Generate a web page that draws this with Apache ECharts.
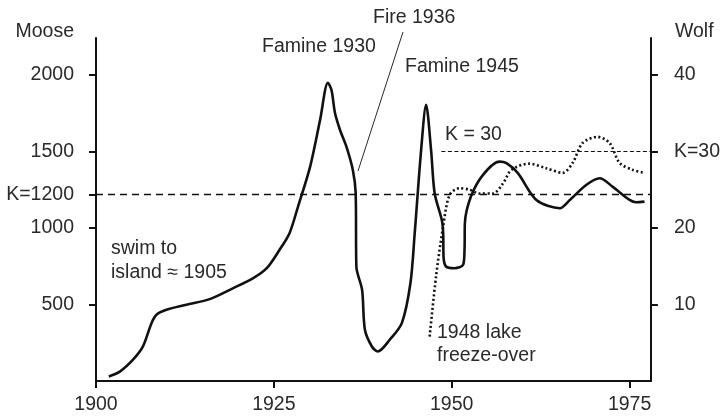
<!DOCTYPE html>
<html>
<head>
<meta charset="utf-8">
<script src="https://cdn.jsdelivr.net/npm/echarts@6/dist/echarts.min.js"></script>
<style>
  html, body { margin: 0; padding: 0; background: #fff; }
  #main { width: 723px; height: 417px; }
</style>
</head>
<body>
<div id="main"></div>
<script>
// moose population
var mooseYears = [1901.8, 1903.4, 1905.2, 1906.6, 1907.8, 1908.5, 1909.9, 1912.7, 1916, 1919.3, 1922.1, 1924, 1925.8, 1927.2, 1928.4, 1930.1, 1931.5, 1932.6, 1933.1, 1933.6, 1934.3, 1935.2, 1936.1, 1936.5, 1936.6, 1937.4, 1937.8, 1938.8, 1939.6, 1941.3, 1943, 1944.2, 1944.8, 1945.7, 1946.4, 1947.1, 1947.6, 1948.6, 1948.8, 1948.85, 1949.2, 1950.4, 1951.6, 1951.8, 1951.85, 1952.7, 1954.4, 1956.7, 1957.7, 1959.3, 1961.9, 1965.2, 1966.6, 1968.9, 1970.8, 1972.6, 1975, 1975.9, 1977.1];
var mooseValues = [30, 63, 139, 226, 378, 433, 465, 498, 535, 607, 672, 737, 857, 966, 1140, 1401, 1706, 1949, 1901, 1749, 1640, 1531, 1379, 1229, 746, 596, 335, 224, 193, 270, 380, 640, 966, 1509, 1804, 1509, 1227, 1053, 966, 813, 748, 737, 759, 857, 1031, 1205, 1347, 1433, 1423, 1358, 1183, 1129, 1183, 1281, 1325, 1270, 1183, 1168, 1172];

// wolf population
var wolfYears = [1946.9, 1947.8, 1948.8, 1949.7, 1951.1, 1952.5, 1953.9, 1955.8, 1957.2, 1958.4, 1960.9, 1963.3, 1965.6, 1967, 1968.4, 1970.5, 1972.2, 1973.6, 1975.4, 1977.1];
var wolfValues = [5.8, 13.7, 20.2, 24.3, 25.2, 25, 24.5, 24.5, 25.8, 27.6, 28.4, 27.8, 27.2, 28.5, 31.1, 31.9, 31.1, 28.5, 27.6, 27.2];

var yearTicks = [1900, 1925, 1950, 1975];
var mooseTicks = [500, 1000, 1220, 1500, 2000];
var wolfTicks = [10, 20, 30, 40];
var kMoose = 1220;   // dashed line as drawn (labelled K=1200)
var kWolf = 30;
var kWolfFrom = 1948.55;

var mooseData = mooseYears.map(function (y, i) { return [y, mooseValues[i]]; });
var wolfData = wolfYears.map(function (y, i) { return [y, wolfValues[i]]; });

var ink = '#111';
var txt = '#2a2a2a';
var font = 'Liberation Sans, Arial, Helvetica, sans-serif';
var fs = 19.5;

var chart = echarts.init(document.getElementById('main'));
chart.setOption({
  animation: false,
  backgroundColor: '#fff',
  grid: { left: 96, right: 70, top: 38, bottom: 36 },
  xAxis: {
    type: 'value', min: 1900, max: 1978,
    splitLine: { show: false },
    axisLine: { lineStyle: { color: ink, width: 2 } },
    axisTick: { length: 7, lineStyle: { color: ink, width: 2 }, customValues: yearTicks },
    axisLabel: {
      color: txt, fontSize: fs, fontFamily: font, margin: 14, customValues: yearTicks,
      formatter: function (v) { return String(v); }
    }
  },
  yAxis: [{
    type: 'value', min: 0, max: 2241, position: 'left',
    name: 'Moose', nameLocation: 'end', nameGap: -4,
    nameTextStyle: { color: txt, fontSize: fs, fontFamily: font, align: 'right', padding: [0, 22, 0, 0] },
    splitLine: { show: false },
    axisLine: { show: true, lineStyle: { color: ink, width: 2 } },
    axisTick: { show: true, length: 7, lineStyle: { color: ink, width: 2 }, customValues: mooseTicks },
    axisLabel: {
      color: txt, fontSize: fs, fontFamily: font, margin: 22, customValues: mooseTicks,
      formatter: function (v) { return v === kMoose ? 'K=1200' : String(v); }
    }
  }, {
    type: 'value', min: 0, max: 44.82, position: 'right',
    name: 'Wolf', nameLocation: 'end', nameGap: -4,
    nameTextStyle: { color: txt, fontSize: fs, fontFamily: font, align: 'left', padding: [0, 0, 0, 24] },
    splitLine: { show: false },
    axisLine: { show: true, lineStyle: { color: ink, width: 2 } },
    axisTick: { show: true, length: 7, lineStyle: { color: ink, width: 2 }, customValues: wolfTicks },
    axisLabel: {
      color: txt, fontSize: fs, fontFamily: font, margin: 23, customValues: wolfTicks,
      formatter: function (v) { return v === kWolf ? 'K=30' : String(v); }
    }
  }],
  series: [{
    name: 'Moose', type: 'line', data: mooseData, yAxisIndex: 0,
    smooth: 0.3, showSymbol: false,
    lineStyle: { color: ink, width: 2.6 },
    markLine: {
      silent: true, symbol: 'none', label: { show: false },
      lineStyle: { color: ink, width: 1.3, type: [7, 5] },
      data: [{ yAxis: kMoose }]
    }
  }, {
    name: 'Wolf', type: 'line', data: wolfData, yAxisIndex: 1,
    smooth: 0.3, showSymbol: false,
    lineStyle: { color: ink, width: 2.6, type: [2, 2.5] },
    markLine: {
      silent: true, symbol: 'none', label: { show: false },
      lineStyle: { color: ink, width: 1.1, type: [4, 2.5] },
      data: [[{ coord: [kWolfFrom, kWolf] }, { coord: [1978, kWolf] }]]
    }
  }],
  graphic: [
    { type: 'text', x: 373, y: 18, style: { text: 'Fire 1936', font: fs + 'px ' + font, fill: txt, verticalAlign: 'middle' } },
    { type: 'line', shape: { x1: 403, y1: 32, x2: 358, y2: 171 }, style: { stroke: txt, lineWidth: 1 } },
    { type: 'text', x: 262, y: 47, style: { text: 'Famine 1930', font: fs + 'px ' + font, fill: txt, verticalAlign: 'middle' } },
    { type: 'text', x: 405, y: 67, style: { text: 'Famine 1945', font: fs + 'px ' + font, fill: txt, verticalAlign: 'middle' } },
    { type: 'text', x: 445, y: 135, style: { text: 'K = 30', font: fs + 'px ' + font, fill: txt, verticalAlign: 'middle' } },
    { type: 'text', x: 111, y: 261, style: { text: 'swim to\nisland \u2248 1905', font: fs + 'px ' + font, lineHeight: 24, fill: txt, verticalAlign: 'middle' } },
    { type: 'text', x: 437, y: 344, style: { text: '1948 lake\nfreeze-over', font: fs + 'px ' + font, lineHeight: 23, fill: txt, verticalAlign: 'middle' } }
  ]
});
</script>
</body>
</html>
